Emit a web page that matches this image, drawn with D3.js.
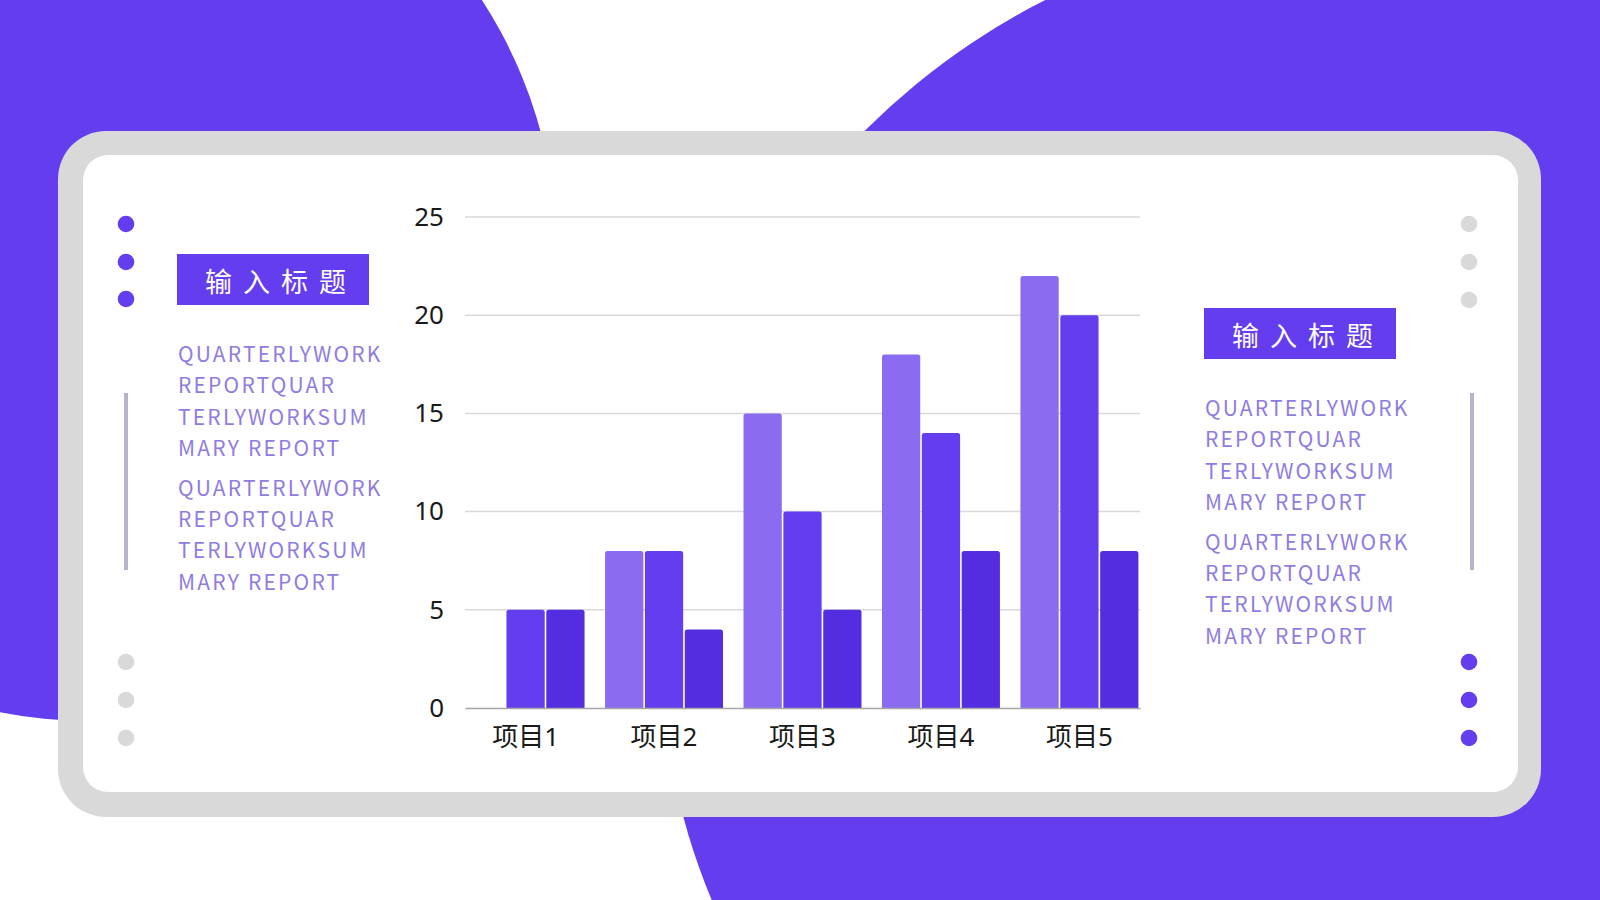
<!DOCTYPE html>
<html>
<head>
<meta charset="utf-8">
<script src="https://cdn.jsdelivr.net/npm/d3@7"></script>
<style>
    body { margin: 0; background: #fff; }
    svg { display: block; }
</style>
</head>
<body>
<svg id="chart" width="1600" height="900"></svg>
<script>
// chart data
var categories = ['项目1', '项目2', '项目3', '项目4', '项目5'];
var seriesKeys = ['系列1', '系列2', '系列3'];
var series1 = [0, 8, 15, 18, 22];
var series2 = [5, 8, 10, 14, 20];
var series3 = [5, 4, 5, 8, 8];
var yTicks = [0, 5, 10, 15, 20, 25];

// side panel texts
var titleText = '输入标题';
var bodyLines = ['QUARTERLYWORK', 'REPORTQUAR', 'TERLYWORKSUM', 'MARY REPORT'];

var PURPLE = '#643dee';
var seriesColors = ['#8b6cf0', '#643dee', '#532ddf'];

var svg = d3.select('#chart');

// background blobs
svg.append('circle').attr('cx', 90).attr('cy', 254).attr('r', 467).attr('fill', PURPLE);
svg.append('circle').attr('cx', 1364).attr('cy', 630).attr('r', 706).attr('fill', PURPLE);

// card frame
svg.append('rect')
    .attr('x', 58).attr('y', 131)
    .attr('width', 1483).attr('height', 686)
    .attr('rx', 48)
    .attr('fill', '#d9d9d9');
svg.append('rect')
    .attr('x', 83).attr('y', 155)
    .attr('width', 1435).attr('height', 637)
    .attr('rx', 25)
    .attr('fill', '#ffffff');

// decorative dots + bars on both sides
function dots(x, ys, color) {
    ys.forEach(function(y) {
        svg.append('circle').attr('cx', x).attr('cy', y).attr('r', 8.3).attr('fill', color);
    });
}
dots(126, [224, 262, 299], PURPLE);
dots(126, [662, 700, 738], '#d9d9d9');
dots(1469, [224, 262, 300], '#d9d9d9');
dots(1469, [662, 700, 738], PURPLE);

svg.append('line').attr('x1', 126).attr('x2', 126).attr('y1', 393).attr('y2', 570)
    .attr('stroke', '#b7b3cc').attr('stroke-width', 4);
svg.append('line').attr('x1', 1472).attr('x2', 1472).attr('y1', 393).attr('y2', 570)
    .attr('stroke', '#b7b3cc').attr('stroke-width', 4);

function sidePanel(x, y) {
    var g = svg.append('g').attr('transform', 'translate(' + x + ',' + y + ')');

    g.append('rect')
        .attr('width', 192).attr('height', 51)
        .attr('fill', PURPLE);
    g.append('text')
        .attr('x', 28).attr('y', 26)
        .attr('dominant-baseline', 'central')
        .attr('fill', '#fff')
        .style('font-family', '"Noto Sans CJK SC", sans-serif')
        .style('font-size', '27px')
        .style('letter-spacing', '11px')
        .text(titleText);

    var lines = bodyLines.concat(bodyLines);
    lines.forEach(function(line, i) {
        var base = 108 + i * 31.4 + (i >= bodyLines.length ? 8 : 0);
        g.append('text')
            .attr('x', 1).attr('y', base)
            .attr('fill', '#8f7ce2')
            .style('font-family', '"Noto Sans CJK SC", sans-serif')
            .style('font-size', '21px')
            .style('letter-spacing', '2.2px')
            .text(line);
    });
}
sidePanel(177, 254);
sidePanel(1204, 308);

// bar chart
var plot = { left: 465, right: 1140, top: 217, bottom: 708 };

var x0 = d3.scaleBand()
    .domain(categories)
    .range([plot.left, plot.right])
    .paddingInner(0.125)
    .paddingOuter(0);

var x1 = d3.scaleBand()
    .domain(seriesKeys)
    .range([0, x0.bandwidth()])
    .padding(0.04);

var y = d3.scaleLinear()
    .domain([0, 25])
    .range([plot.bottom, plot.top]);

var chart = svg.append('g');

// grid
chart.append('g')
    .selectAll('line')
    .data(yTicks.filter(function(d) { return d > 0; }))
    .enter()
    .append('line')
    .attr('x1', plot.left).attr('x2', plot.right)
    .attr('y1', function(d) { return y(d); })
    .attr('y2', function(d) { return y(d); })
    .attr('stroke', '#d9d9d9')
    .attr('stroke-width', 1.5);

// y axis labels
var yAxis = chart.append('g')
    .attr('transform', 'translate(' + plot.left + ',0)')
    .call(d3.axisLeft(y).tickValues(yTicks).tickSize(0).tickPadding(21));
yAxis.select('.domain').remove();
yAxis.selectAll('text')
    .attr('fill', '#1a1a1a')
    .style('font-family', '"Noto Sans", "Noto Sans CJK SC", sans-serif')
    .style('font-size', '26px');

var rows = categories.map(function(c, i) {
    return { cat: c, values: [series1[i], series2[i], series3[i]] };
});

function topRounded(x, yTop, w, h, r) {
    r = Math.min(r, h);
    return 'M' + x + ',' + (yTop + h) +
        'V' + (yTop + r) +
        'Q' + x + ',' + yTop + ' ' + (x + r) + ',' + yTop +
        'H' + (x + w - r) +
        'Q' + (x + w) + ',' + yTop + ' ' + (x + w) + ',' + (yTop + r) +
        'V' + (yTop + h) + 'Z';
}

chart.append('g')
    .selectAll('g')
    .data(rows)
    .enter()
    .append('g')
    .attr('transform', function(d) { return 'translate(' + x0(d.cat) + ',0)'; })
    .selectAll('path')
    .data(function(d) {
        return d.values.map(function(v, i) { return { key: seriesKeys[i], value: v, idx: i }; })
            .filter(function(e) { return e.value > 0; });
    })
    .enter()
    .append('path')
    .attr('d', function(d) {
        return topRounded(x1(d.key), y(d.value), x1.bandwidth(), plot.bottom - y(d.value), 2.5);
    })
    .attr('fill', function(d) { return seriesColors[d.idx]; });

// x axis
var xAxis = chart.append('g')
    .attr('transform', 'translate(0,' + plot.bottom + ')')
    .call(d3.axisBottom(x0).tickSize(0).tickPadding(20));
xAxis.select('.domain')
    .attr('stroke', '#a6a6a6')
    .attr('stroke-width', 1.5);
xAxis.selectAll('text')
    .attr('fill', '#1a1a1a')
    .style('font-family', '"Noto Sans", "Noto Sans CJK SC", sans-serif')
    .style('font-size', '26px');
</script>
</body>
</html>
